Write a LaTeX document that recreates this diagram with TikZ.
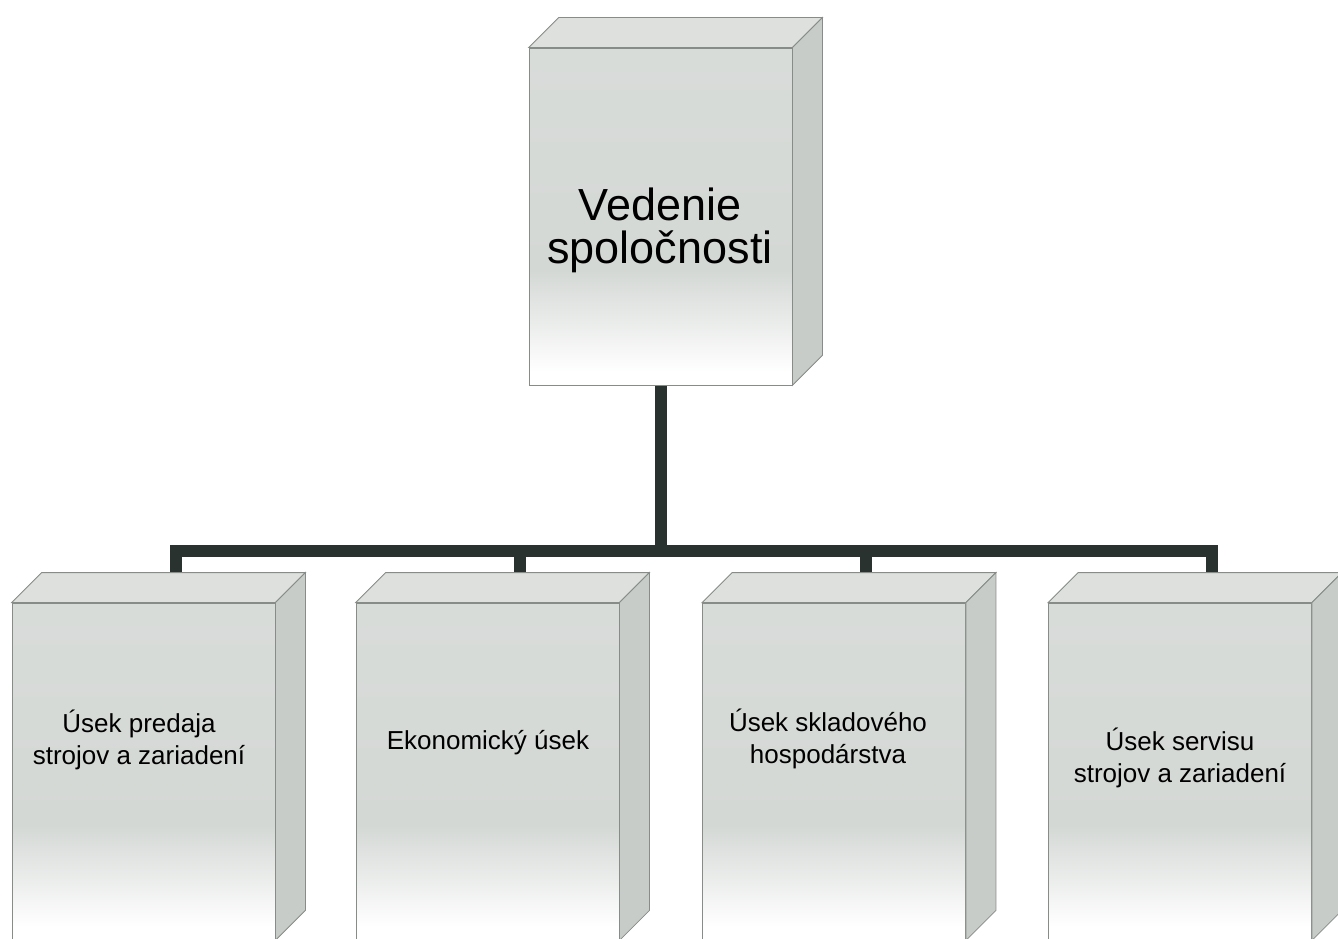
\documentclass[tikz,border=0pt]{standalone}
\usepackage{fontspec}
\setmainfont{Liberation Sans}
\usetikzlibrary{backgrounds}

\definecolor{facegray}{RGB}{212,216,213}
\definecolor{topgray}{RGB}{221,224,221}
\definecolor{sidegray}{RGB}{200,204,201}
\definecolor{edgegray}{RGB}{135,140,136}
\definecolor{linkgray}{RGB}{42,50,47}

\pgfdeclareverticalshading{slabfade}{100bp}{color(0bp)=(white); color(27bp)=(white);
  color(42bp)=(facegray); color(75bp)=(facegray!90); color(100bp)=(facegray!90)}

\tikzset{
  slab/.style={draw=edgegray, line width=.8pt, shading=slabfade,
    minimum width=263pt, minimum height=337pt, inner sep=0pt},
  topface/.style={draw=edgegray, line width=.8pt, fill=topgray},
  sideface/.style={draw=edgegray, line width=.8pt, fill=sidegray},
  link/.style={draw=linkgray, line width=12pt},
  bigtext/.style={align=center, inner sep=0pt, font=\fontsize{45}{43}\selectfont},
  smalltext/.style={align=center, inner sep=0pt, font=\fontsize{26}{31.5}\selectfont}
}

\begin{document}
\begin{tikzpicture}[x=1pt, y=-1pt]
  \useasboundingbox (0, 0) rectangle (1338, 939);

  % front faces
  \node [slab] (mgmt) at (660.5, 216.5) {};
  \node [slab] (sales) at (143.5, 771.5) {};
  \node [slab] (econ) at (487.5, 771.5) {};
  \node [slab] (store) at (834, 771.5) {};
  \node [slab] (service) at (1180, 771.5) {};

  % top and side faces
  \foreach \n in {mgmt, sales, econ, store, service} {
    \filldraw [topface] (\n.north west) -- ([shift={(30,-30)}]\n.north west)
      -- ([shift={(30,-30)}]\n.north east) -- (\n.north east) -- cycle;
    \filldraw [sideface] (\n.north east) -- ([shift={(30,-30)}]\n.north east)
      -- ([shift={(30,-30)}]\n.south east) -- (\n.south east) -- cycle;
  }

  % labels
  \node [bigtext] (mgmt-t) at (660, 230) {Vedenie\\spoločnosti};
  \node [smalltext] (sales-t) at (139, 740) {Úsek predaja\\strojov a zariadení};
  \node [smalltext] (econ-t) at (488, 743) {Ekonomický úsek};
  \node [smalltext] (store-t) at (828, 739) {Úsek skladového\\hospodárstva};
  \node [smalltext] (service-t) at (1180, 758) {Úsek servisu\\strojov a zariadení};

  % connectors
  \begin{scope}[on background layer]
    \coordinate (hub) at (660.5, 550.5);
    \draw [link] (mgmt.south) -- (hub);
    \foreach \n in {sales, econ, store, service}
      \draw [link] (hub) -| ([shift={(32,-30)}]\n.north);
  \end{scope}
\end{tikzpicture}
\end{document}
